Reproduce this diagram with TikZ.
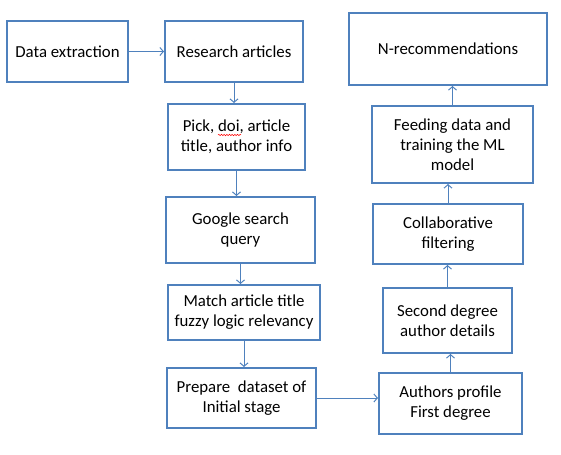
\documentclass[tikz,border=0pt]{standalone}
\usepackage{fontspec}
\setmainfont{Carlito}
\usepackage{tikz}
\usetikzlibrary{arrows.meta, decorations.pathmorphing}
\definecolor{boxblue}{HTML}{4F81BD}

\begin{document}
\begin{tikzpicture}[x=0.75pt, y=-0.75pt,
	blk/.style={draw=boxblue, line width=1.5pt, fill=white, align=center,
		inner sep=1pt, font=\fontsize{12.6}{15}\selectfont},
	flow/.style={draw=boxblue, line width=0.75pt, -{Straight Barb[length=2.6pt, width=6pt]}}]
	\useasboundingbox (0,0) rectangle (561,454);

	% left column
	\node[blk, minimum width=90.75pt, minimum height=45.75pt] (extr) at (67.5,51.5) {Data extraction};
	\node[blk, minimum width=103.5pt, minimum height=45.75pt] (artc) at (234,51.5) {Research articles};
	\node[blk, minimum width=102.75pt, minimum height=49.5pt] (pick) at (236.5,137) {Pick, doi, article\\title, author info};
	\node[blk, minimum width=111.75pt, minimum height=49.5pt] (goog) at (240.5,230) {Google search\\query};
	\node[blk, minimum width=114pt, minimum height=41.25pt] (mtch) at (244,312.5) {Match article title\\fuzzy logic relevancy};
	\node[blk, minimum width=111.75pt, minimum height=45pt] (prep) at (241.5,398) {Prepare~ dataset of\\Initial stage};

	% right column
	\node[blk, minimum width=107.25pt, minimum height=45.75pt] (auth) at (450.5,403.5) {Authors profile\\First degree};
	\node[blk, minimum width=96.75pt, minimum height=48.75pt] (scnd) at (447.5,320.5) {Second degree\\author details};
	\node[blk, minimum width=112.5pt, minimum height=45pt] (coll) at (448,234) {Collaborative\\filtering};
	\node[blk, minimum width=120.75pt, minimum height=57.75pt] (feed) at (452.5,144.5) {Feeding data and\\training the ML\\model};
	\node[blk, minimum width=148.5pt, minimum height=54pt] (nrec) at (448,49) {N-recommendations};

	% spell-check mark under doi
	\draw[red, line width=0.4pt, decorate, decoration={snake, amplitude=0.5pt, segment length=2pt}] (218,135) -- (241,135);

	\draw[flow] (extr.east) -- (artc.west);
	\draw[flow] (artc.south) -- (artc.south |- pick.north);
	\draw[flow] (pick.south) -- (pick.south |- goog.north);
	\draw[flow] (goog.south) -- (goog.south |- mtch.north);
	\draw[flow] (mtch.south) -- (mtch.south |- prep.north);
	\draw[flow] (prep.east) -- (prep.east -| auth.west);
	\draw[flow] (auth.north) -- (auth.north |- scnd.south);
	\draw[flow] (scnd.north) -- (scnd.north |- coll.south);
	\draw[flow] (coll.north) -- (coll.north |- feed.south);
	\draw[flow] (feed.north) -- (feed.north |- nrec.south);
\end{tikzpicture}
\end{document}
